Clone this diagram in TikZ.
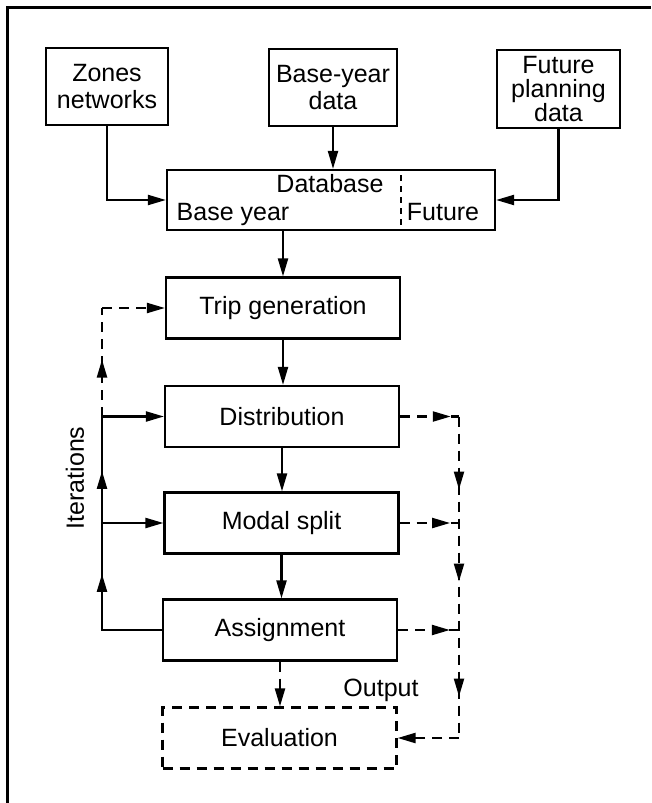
\documentclass[tikz,border=0pt]{standalone}
\usepackage{fontspec}
\setmainfont{Liberation Sans}
\usetikzlibrary{arrows.meta,decorations.markings}
\newcommand\dglbl{\fontsize{25}{27}\selectfont}
\newcommand\dglblt{\fontsize{25}{24}\selectfont}
\begin{document}
\begin{tikzpicture}[x=1pt,y=-1pt,
  >={Triangle[length=18pt,width=10pt]},
  box/.style={draw,line width=2.2pt,minimum width=234pt,minimum height=61pt,inner sep=0pt,align=center,font=\dglbl},
  dbox/.style={box,dash pattern=on 10pt off 7pt},
  lbl/.style={font=\dglbl,inner sep=0pt},
  conn/.style={line width=2.2pt},
  dconn/.style={line width=2.2pt,dash pattern=on 10pt off 7pt},
  arr/.style={conn,->},
  darr/.style={dconn,->},
  marr/.style={postaction={decorate,decoration={markings,mark=at position #1 with {\arrow[solid]{>}}}}},
]
\useasboundingbox (0,0) rectangle (651,803);
% frame
\draw[line width=3pt] (7,803) -- (7,7) -- (651,7);

% input boxes
\node[box,minimum width=122pt,minimum height=77pt] (zones) at (107,86.5) {Zones\\networks};
\node[box,minimum width=128pt,minimum height=77pt] (base) at (333,87.5) {Base-year\\data};
\node[box,minimum width=123pt,minimum height=78pt,font=\dglblt] (fut) at (558.5,89) {Future\\planning\\data};

% database
\node[box,minimum width=328pt,minimum height=60pt] (db) at (331,200) {};
\node[lbl,anchor=base] (dbt) at (330,192) {Database};
\node[lbl,anchor=base] (dbb) at (233,220) {Base year};
\node[lbl,anchor=base] (dbf) at (443,220) {Future};
\coordinate (divt) at (401,175);
\coordinate (divb) at (401,226);
\draw[line width=1.6pt,dash pattern=on 6pt off 5pt] (divt) -- (divb);

% process boxes
\node[box] (trip) at (283,308) {Trip generation};
\node[box] (dist) at (282,416.5) {Distribution};
\node[box] (modal) at (281.5,523) {Modal split};
\node[box] (assign) at (280,630) {Assignment};
\node[dbox] (eval) at (279.5,738) {Evaluation};

\node[lbl] (out) at (381,690) {Output};
\node[lbl,rotate=90] (iter) at (75,478) {Iterations};

% inputs to database
\draw[arr] (zones.south) |- (db.west);
\draw[arr] (base.south) -- (base.south |- db.north);
\draw[arr] (fut.south) |- (db.east);
\draw[arr] (trip.north |- db.south) -- (trip.north);

% main chain
\draw[arr] (trip.south) -- (trip.south |- dist.north);
\draw[arr] (dist.south) -- (dist.south |- modal.north);
\draw[arr] (modal.south) -- (modal.south |- assign.north);
\draw[darr] (assign.south) -- (assign.south |- eval.north);

% iterations loop (left)
\coordinate (la) at (102,630);
\coordinate (ld) at (102,416.5);
\coordinate (lm) at (102,523);
\coordinate (lt) at (102,308);
\draw[conn,marr=116pt,postaction={decorate,decoration={markings,mark=at position 219pt with {\arrow{>}}}}] (assign.west) -- (la) -- (ld);
\draw[arr] (ld) -- (dist.west);
\draw[arr] (lm) -- (modal.west);
\draw[dconn,marr=57pt] (ld) -- (lt);
\draw[darr] (lt) -- (trip.west);

% output collection (right)
\coordinate (rd) at (459,416.5);
\coordinate (rm) at (459,523);
\coordinate (ra) at (459,630);
\coordinate (re) at (459,738);
\draw[dconn,marr=0.86] (dist.east) -- (rd);
\draw[dconn,marr=0.85] (modal.east) -- (rm);
\draw[dconn,marr=0.85] (assign.east) -- (ra);
\draw[dconn,marr=73pt,
  postaction={decorate,decoration={markings,mark=at position 165pt with {\arrow[solid]{>}}}},
  postaction={decorate,decoration={markings,mark=at position 280pt with {\arrow[solid]{>}}}}]
  (rd) -- (re);
\draw[darr] (re) -- (eval.east);
\end{tikzpicture}
\end{document}
